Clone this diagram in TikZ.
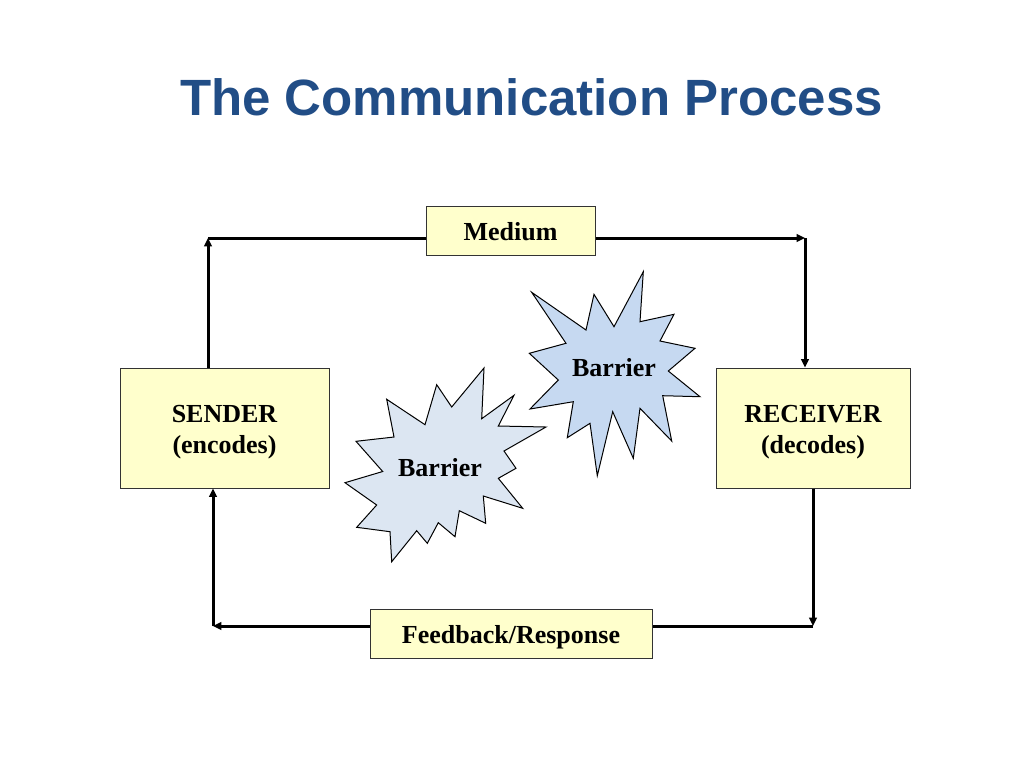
\documentclass[tikz,border=0pt]{standalone}
\usepackage{fontspec}
\setmainfont{Liberation Serif}
\newfontfamily\titlefont{Liberation Sans}
\usetikzlibrary{calc,positioning,arrows.meta}
\definecolor{titleblue}{RGB}{33,77,134}
\definecolor{boxyellow}{RGB}{255,255,204}
\definecolor{stardark}{RGB}{198,217,241}
\definecolor{starlight}{RGB}{220,230,242}
\newcommand{\boxtext}[2][2pt]{\raisebox{-#1}[\height][\depth]{\begin{tabular}{@{}c@{}}#2\end{tabular}}}
\begin{document}
\begin{tikzpicture}[x=0.5pt,y=-0.5pt,
  box/.style={draw=black!80,line width=0.5pt,fill=boxyellow,inner sep=0pt,font=\fontsize{13}{15.5}\selectfont\bfseries},
  flow/.style={line width=1.5pt,-{Triangle[length=4.2pt,width=3.8pt]}},
  plain/.style={line width=1.5pt},
  burst/.style={draw=black,line width=0.5pt,line join=miter},
  lbl/.style={font=\fontsize{13}{15.5}\selectfont\bfseries}]
              \useasboundingbox (0,0) rectangle (1024,768);
              \node[font=\titlefont\fontsize{25.5}{30}\selectfont\bfseries,text=titleblue,anchor=base] (title) at (531.5,115) {The Communication Process};

              \node[box,minimum width=104.5pt,minimum height=60pt] (sender) at (224.5,428) {\boxtext{SENDER\\(encodes)}};
              \node[box,minimum width=97pt,minimum height=60pt] (receiver) at (813,428) {\boxtext{RECEIVER\\(decodes)}};
              \node[box,minimum width=84.5pt,minimum height=24.5pt] (medium) at (510.5,230.5) {\boxtext[1.8pt]{Medium}};
              \node[box,minimum width=141pt,minimum height=24.5pt] (feedback) at (511,633.5) {\boxtext{Feedback/Response}};

              \coordinate (tl) at (208,238);
              \coordinate (tr) at (805,238);
              \coordinate (br) at (813,626);
              \coordinate (bl) at (213,626);

              \draw[flow] (sender.north -| tl) -- (tl);
              \draw[plain] (tl) -- (tl -| medium.west);
              \draw[flow] (medium.east |- tr) -- (tr);
              \draw[flow] (tr) -- (tr |- receiver.north);
              \draw[flow] (receiver.south -| br) -- (br);
              \draw[plain] (br) -- (br -| feedback.east);
              \draw[flow] (feedback.west |- bl) -- (bl);
              \draw[flow] (bl) -- (bl |- sender.south);

              % barriers
              \draw[burst,fill=stardark] (643.3,271.7) -- (640,321.7) -- (674,314.3) -- (660,341) -- (695,348.3) -- (668.3,371) -- (700,396.7) -- (662.7,395.7) -- (671.7,441) -- (640,408.3) -- (633.3,458.3) -- (612.7,411.7) -- (597.3,475.7) -- (590,423.3) -- (567.3,437.7) -- (573.3,401.7) -- (530,409) -- (558.3,380) -- (529.3,353.3) -- (566,343.3) -- (531.7,292.3) -- (586,330) -- (594,294.3) -- (614,326.7) -- cycle;
              \draw[burst,fill=starlight] (484,368) -- (481.7,418.7) -- (514,395.3) -- (498.3,426) -- (546,427) -- (504,451) -- (516,468.3) -- (498.3,478.3) -- (522.7,508.3) -- (483.3,496) -- (485.7,523.3) -- (459.3,510.7) -- (455,536.7) -- (438.3,522.7) -- (427.3,543.3) -- (416.7,530.7) -- (391.7,561.7) -- (390,531.7) -- (356.7,527.3) -- (376.7,505) -- (345,482.7) -- (382.7,471.5) -- (356,441.3) -- (394,437) -- (386.7,399.3) -- (425,424.7) -- (436.7,384.7) -- (451.7,407) -- cycle;
              \node[lbl] (barrier1) at (614,368) {Barrier};
              \node[lbl] (barrier2) at (440,468) {Barrier};
            \end{tikzpicture}
\end{document}
